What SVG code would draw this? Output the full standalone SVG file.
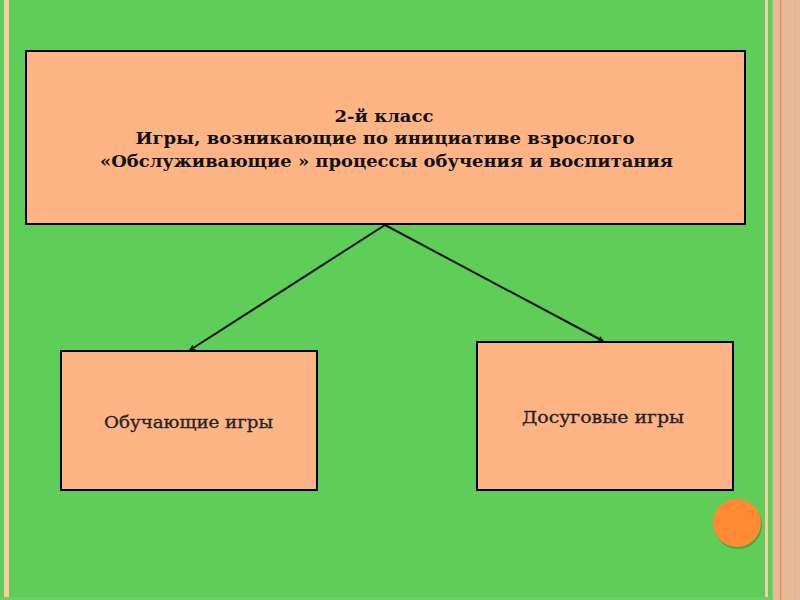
<svg xmlns="http://www.w3.org/2000/svg" width="800" height="600" viewBox="0 0 800 600">
<defs>
<style>
.box{fill:#FFB486;stroke:#000;stroke-width:2}
.t{font-family:"DejaVu Serif","Liberation Serif",serif;font-weight:bold;font-size:16px;fill:#111;text-anchor:middle}
.tn{font-family:"DejaVu Serif","Liberation Serif",serif;font-weight:normal;font-size:16px;fill:#222;text-anchor:middle;stroke:#222;stroke-width:0.3}
.conn{stroke:#111;stroke-width:2;fill:none;marker-end:url(#ah)}
</style>
<marker id="ah" viewBox="0 0 10 10" refX="9" refY="5" markerWidth="6" markerHeight="6" orient="auto" markerUnits="userSpaceOnUse">
<path d="M1,1 L9,5 L1,9" fill="none" stroke="#111" stroke-width="1.8"/>
</marker>
</defs>
<rect x="0" y="0" width="800" height="600" fill="#5ECE58"/>
<rect x="4" y="0" width="5" height="600" fill="#FFCBA0"/>
<rect x="765" y="0" width="3" height="600" fill="#F0D0A8"/>
<rect x="772.5" y="0" width="27.5" height="600" fill="#E6B99A"/>
<rect x="780" y="0" width="1.2" height="600" fill="#F08A40"/>
<rect x="795" y="0" width="1" height="600" fill="#DDB090"/>
<rect x="0" y="597" width="773" height="3" fill="#6DD066"/>
<g id="top">
<rect class="box" x="26" y="51" width="719" height="173"/>
<text class="t" x="384" y="122" textLength="99" lengthAdjust="spacingAndGlyphs">2-й класс</text>
<text class="t" x="385" y="144" textLength="499" lengthAdjust="spacingAndGlyphs">Игры, возникающие по инициативе взрослого</text>
<text class="t" x="386.5" y="167" textLength="573" lengthAdjust="spacingAndGlyphs">«Обслуживающие » процессы обучения и воспитания</text>
</g>
<g id="left">
<rect class="box" x="61" y="351" width="256" height="139"/>
<text class="tn" x="188.5" y="428" textLength="169" lengthAdjust="spacingAndGlyphs">Обучающие игры</text>
</g>
<g id="right">
<rect class="box" x="477" y="342" width="256" height="148"/>
<text class="tn" x="603" y="423" textLength="162" lengthAdjust="spacingAndGlyphs">Досуговые игры</text>
</g>
<g id="connectors">
<line class="conn" x1="385" y1="225" x2="190" y2="350"/>
<line class="conn" x1="385" y1="225" x2="603" y2="341"/>
</g>
<g id="circle">
<circle cx="738" cy="525" r="24" fill="#3E8A30" opacity="0.6"/>
<circle cx="737" cy="523" r="24" fill="#FF8A33"/>
</g>
</svg>
